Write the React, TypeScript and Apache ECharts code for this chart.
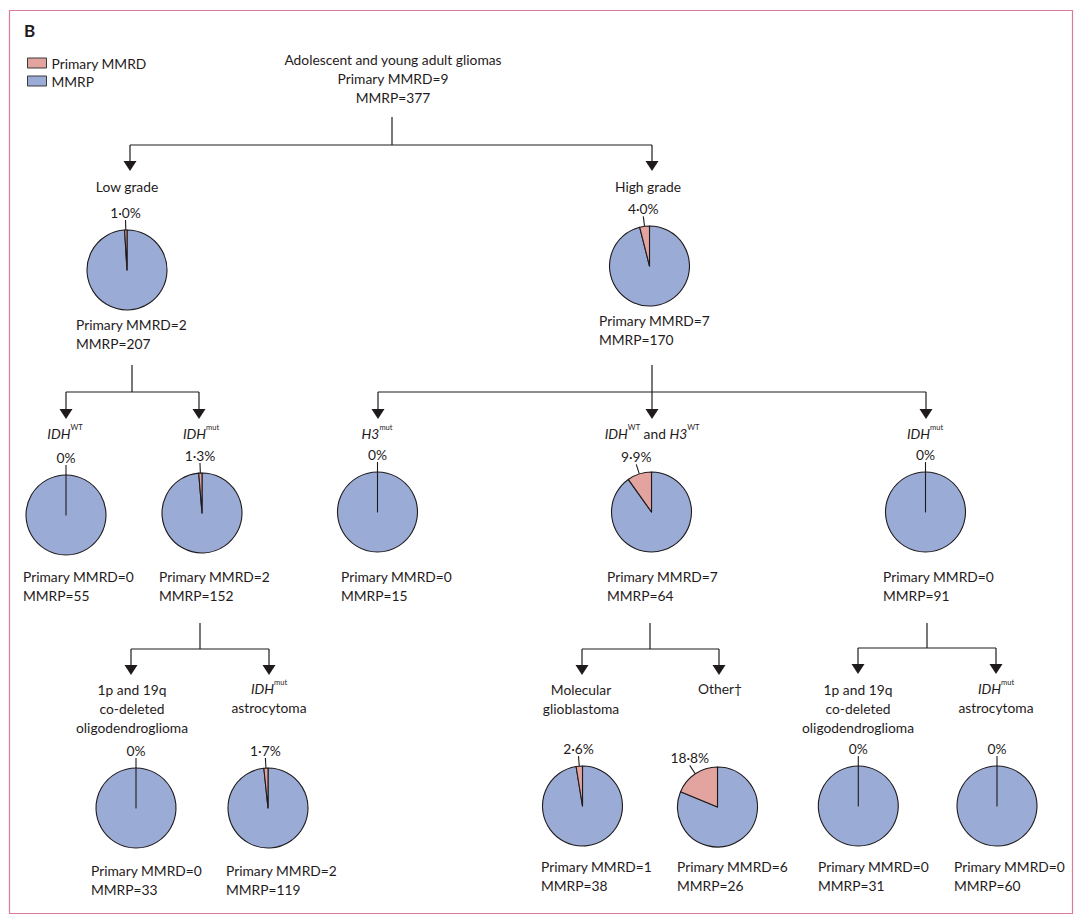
import React, { useEffect, useRef } from 'react';
import * as echarts from 'echarts';

// ---------------- data ----------------
const seriesNames = ['Primary MMRD', 'MMRP'];
const rootTitle = 'Adolescent and young adult gliomas';
const rootMmrd = 9;
const rootMmrp = 377;

const nodeTitles = [
  '{n|Low grade}',
  '{n|High grade}',
  '{i|IDH}{s|WT}',
  '{i|IDH}{s|mut}',
  '{i|H3}{s|mut}',
  '{i|IDH}{s|WT}{n| and }{i|H3}{s|WT}',
  '{i|IDH}{s|mut}',
  '{n|1p and 19q}\n{n|co-deleted}\n{n|oligodendroglioma}',
  '{i|IDH}{s|mut}\n{n|astrocytoma}',
  '{n|Molecular}\n{n|glioblastoma}',
  '{n|Other†}',
  '{n|1p and 19q}\n{n|co-deleted}\n{n|oligodendroglioma}',
  '{i|IDH}{s|mut}\n{n|astrocytoma}',
];
const mmrdCounts = [2, 7, 0, 2, 0, 7, 0, 0, 2, 1, 6, 0, 0];
const mmrpCounts = [207, 170, 55, 152, 15, 64, 91, 33, 119, 38, 26, 31, 60];
const pctLabels = ['1·0%', '4·0%', '0%', '1·3%', '0%', '9·9%', '0%', '0%', '1·7%', '2·6%', '18·8%', '0%', '0%'];

// ---------------- layout ----------------
// [titleCenterX, titleFirstLineY, pieCx, pieCy, textLeftX, textFirstLineY]
const nodeLayout = [
  [127, 187, 127, 270, 76, 325],
  [648, 187, 649.5, 266, 599, 321],
  [65, 434, 66, 515, 23, 577],
  [201, 434, 202, 513, 159, 577],
  [377, 434, 377.5, 512, 341, 577],
  [652, 434, 651.5, 512, 607, 577],
  [925, 434, 925.5, 512, 883, 577],
  [132, 690, 136, 808, 91, 871],
  [269, 689, 268, 808, 226, 871],
  [581, 690, 582.5, 806, 541, 867],
  [720, 689, 717.5, 807, 677, 867],
  [858, 690, 858.3, 806, 818, 867],
  [996, 689, 997, 806, 954, 867],
];
// stemX, stemTop, barY, drop xs, tipY
const connectors = [
  { x: 392, top: 117, bar: 145, drops: [130, 652], tip: 171 },
  { x: 132, top: 365, bar: 392, drops: [66, 199], tip: 419 },
  { x: 652, top: 365, bar: 392, drops: [378, 652, 926], tip: 419 },
  { x: 200, top: 623, bar: 649, drops: [131, 269], tip: 675 },
  { x: 650, top: 623, bar: 649, drops: [582, 719], tip: 675 },
  { x: 927, top: 623, bar: 648, drops: [858, 996], tip: 674 },
];

const PINK = '#e3a39f';
const BLUE = '#9aabd6';
const INK = '#1f1b1c';
const FRAME = '#d97a9e';
const FONT = 'Lato, "Noto Sans", sans-serif';
const FS = 13.8;
const LH = 19;
const PIE_R = 40;
const TOP_SHIFT = LH / 2 + 1;

function textEl(x: number, y: number, text: string, align: string, extra: any = {}) {
  return {
    type: 'text',
    x,
    y,
    silent: true,
    style: {
      text,
      fill: INK,
      fontFamily: FONT,
      fontSize: FS,
      lineHeight: LH,
      align,
      textAlign: align,
      verticalAlign: 'top',
      textVerticalAlign: 'top',
      ...extra,
    },
  };
}

function buildGraphics() {
  const els: any[] = [];
  els.push({
    type: 'rect',
    silent: true,
    shape: { x: 9.5, y: 10.5, width: 1063, height: 903 },
    style: { fill: 'none', stroke: FRAME, lineWidth: 1.2 },
  });
  els.push({
    type: 'text',
    x: 24,
    y: 30,
    silent: true,
    style: {
      text: 'B',
      fill: INK,
      fontFamily: FONT,
      fontSize: 17,
      fontWeight: 'bold',
      align: 'left',
      textAlign: 'left',
      verticalAlign: 'middle',
      textVerticalAlign: 'middle',
    },
  });
  els.push(textEl(393, 60 - TOP_SHIFT, `${rootTitle}\nPrimary MMRD=${rootMmrd}\nMMRP=${rootMmrp}`, 'center'));

  const lineStyle = { stroke: INK, lineWidth: 1.2 };
  connectors.forEach((c) => {
    els.push({ type: 'line', silent: true, shape: { x1: c.x, y1: c.top, x2: c.x, y2: c.bar }, style: lineStyle });
    const minX = Math.min(...c.drops);
    const maxX = Math.max(...c.drops);
    els.push({ type: 'line', silent: true, shape: { x1: minX, y1: c.bar, x2: maxX, y2: c.bar }, style: lineStyle });
    c.drops.forEach((dx) => {
      els.push({ type: 'line', silent: true, shape: { x1: dx, y1: c.bar, x2: dx, y2: c.tip - 9 }, style: lineStyle });
      els.push({
        type: 'polygon',
        silent: true,
        shape: { points: [[dx - 6.5, c.tip - 10], [dx + 6.5, c.tip - 10], [dx, c.tip]] },
        style: { fill: INK, stroke: 'none' },
      });
    });
  });

  nodeLayout.forEach((l, i) => {
    els.push(
      textEl(l[0], l[1] - TOP_SHIFT, nodeTitles[i], 'center', {
        rich: {
          n: { fontFamily: FONT, fontSize: FS, lineHeight: LH, fill: INK },
          i: { fontFamily: FONT, fontSize: FS, lineHeight: LH, fontStyle: 'italic', fill: INK },
          s: { fontFamily: FONT, fontSize: 7.5, lineHeight: 13, verticalAlign: 'top', fill: INK },
        },
      })
    );
    els.push(textEl(l[4], l[5] - TOP_SHIFT, `Primary MMRD=${mmrdCounts[i]}\nMMRP=${mmrpCounts[i]}`, 'left'));
  });
  return els;
}

function buildSeries() {
  return nodeLayout.map((l, i) => ({
    type: 'pie',
    name: nodeTitles[i],
    center: [l[2], l[3]],
    radius: PIE_R,
    startAngle: 90,
    clockwise: true,
    silent: true,
    avoidLabelOverlap: false,
    emphasis: { disabled: true },
    itemStyle: { borderColor: INK, borderWidth: 1.1 },
    label: {
      show: true,
      position: 'outside',
      fontFamily: FONT,
      fontSize: FS,
      color: INK,
    },
    labelLine: { show: true, length: 10, length2: 0, lineStyle: { color: INK, width: 1.1 } },
    labelLayout: (p: any) => {
      const pts = p.labelLinePoints;
      if (!pts) return {};
      const end = pts[pts.length - 1];
      return { x: end[0], y: end[1] - 1, align: 'center', verticalAlign: 'bottom', labelLinePoints: pts };
    },
    data: [
      {
        name: seriesNames[1],
        value: mmrpCounts[i],
        itemStyle: { color: BLUE },
        label: { show: false },
        labelLine: { show: false },
      },
      {
        name: seriesNames[0],
        value: mmrdCounts[i],
        itemStyle: { color: PINK },
        label: { show: true, formatter: pctLabels[i] },
      },
    ],
  }));
}

export default function App() {
  const ref = useRef<HTMLDivElement>(null);
  useEffect(() => {
    if (!ref.current) return;
    const chart = echarts.init(ref.current, undefined, { renderer: 'svg' });
    chart.setOption({
      animation: false,
      backgroundColor: '#ffffff',
      legend: {
        data: [seriesNames[0], seriesNames[1]],
        orient: 'vertical',
        left: 22,
        top: 50,
        icon: 'rect',
        itemWidth: 19,
        itemHeight: 10,
        itemGap: 2,
        selectedMode: false,
        itemStyle: { borderColor: '#3a3a3a', borderWidth: 1 },
        textStyle: { fontFamily: FONT, fontSize: FS, color: INK, lineHeight: 16 },
      },
      graphic: { elements: buildGraphics() },
      series: buildSeries(),
    });
    return () => chart.dispose();
  }, []);
  return <div ref={ref} style={{ position: 'absolute', left: 0, top: 0, width: 1080, height: 920 }} />;
}
